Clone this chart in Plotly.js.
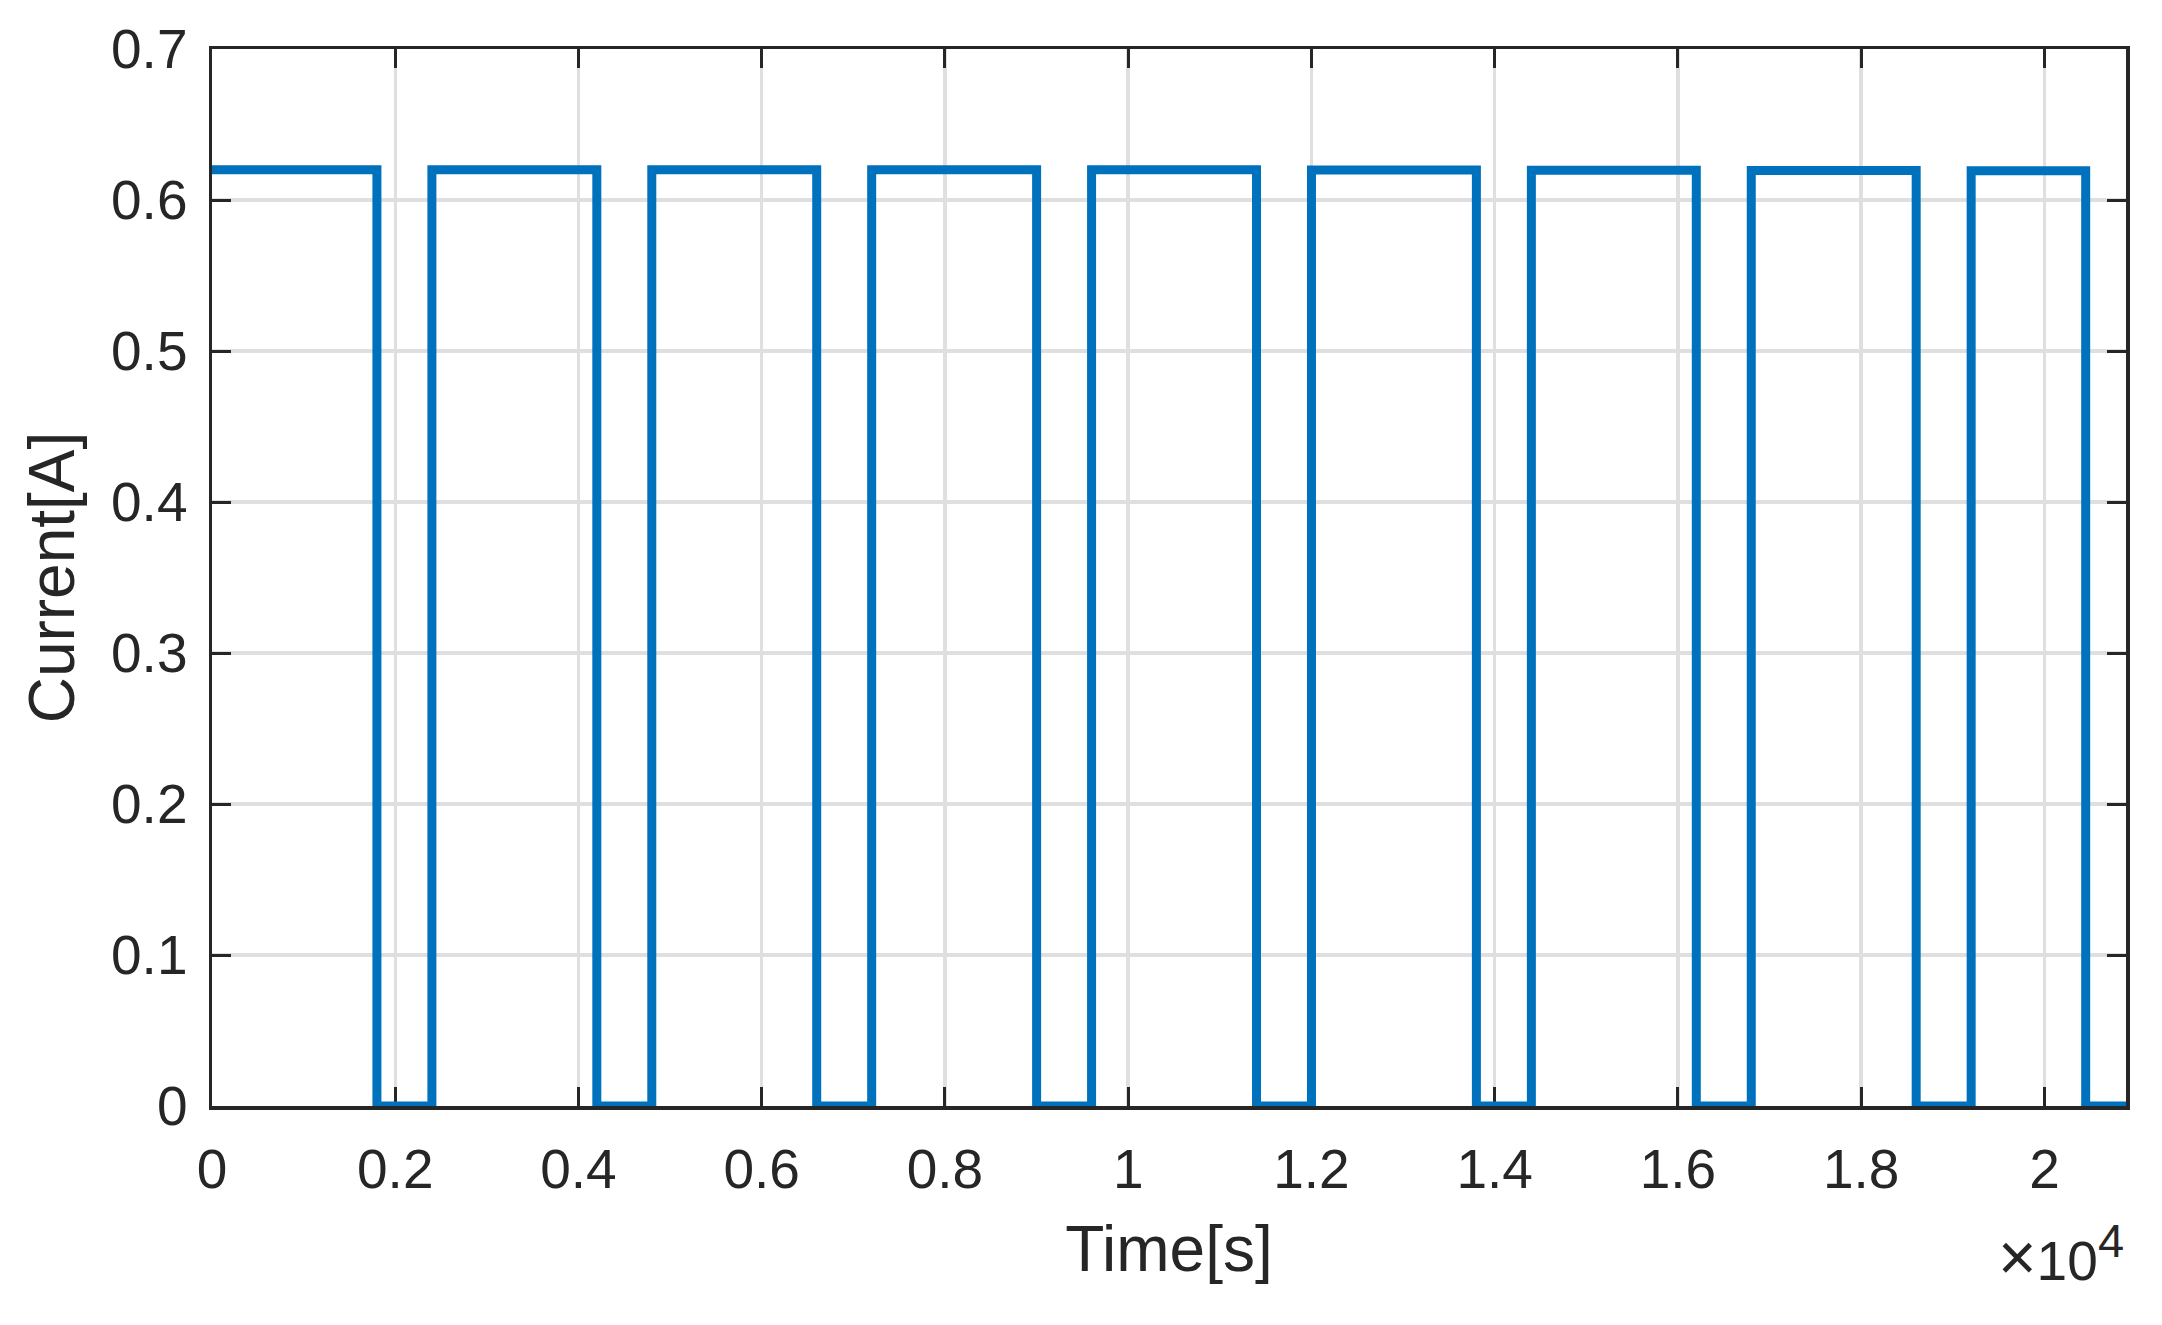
<!DOCTYPE html>
<html>
<head>
<meta charset="utf-8">
<script src="https://cdn.plot.ly/plotly-3.0.1.min.js"></script>
<style>html,body{margin:0;padding:0;background:#fff;}#chart{width:2162px;height:1325px;}</style>
</head>
<body>
<div id="chart"></div>
<script>
// Switching instants (s) and the current level that starts at each instant (A)
const timeSeconds = [0, 1800, 2400, 4200, 4800, 6600, 7200, 9000, 9600, 11400, 12000, 13800, 14400, 16200, 16800, 18600, 19200, 20450, 20890];
const currentAmps = [0.620, 0, 0.620, 0, 0.620, 0, 0.620, 0, 0.620, 0, 0.6198, 0, 0.6197, 0, 0.6196, 0, 0.6194, 0, 0];

const xTickVals = [0, 2000, 4000, 6000, 8000, 10000, 12000, 14000, 16000, 18000, 20000];
const xTickText = ['0', '0.2', '0.4', '0.6', '0.8', '1', '1.2', '1.4', '1.6', '1.8', '2'];
const yTickVals = [0, 0.1, 0.2, 0.3, 0.4, 0.5, 0.6, 0.7];
const yTickText = ['0', '0.1', '0.2', '0.3', '0.4', '0.5', '0.6', '0.7'];
const xExponentTimes = '×';
const xExponentBase = '10';
const xExponent = '4';

const textColor = '#262626';
const fontFamily = 'Liberation Sans, Arial, sans-serif';

const trace = {
  x: timeSeconds,
  y: currentAmps,
  type: 'scatter',
  mode: 'lines',
  line: {shape: 'hv', color: '#0072BD', width: 9},
  hoverinfo: 'x+y',
  cliponaxis: false
};

const axisCommon = {
  showline: true,
  linecolor: textColor,
  linewidth: 3.5,
  mirror: 'ticks',
  ticks: 'inside',
  ticklen: 19,
  tickwidth: 3,
  tickcolor: textColor,
  showgrid: true,
  gridcolor: '#dfdfdf',
  gridwidth: 3.5,
  zeroline: false,
  layer: 'below traces',
  tickfont: {family: fontFamily, size: 55, color: textColor},
  tickmode: 'array'
};

const layout = {
  width: 2162,
  height: 1325,
  margin: {l: 212, r: 36, t: 49, b: 219},
  paper_bgcolor: '#ffffff',
  plot_bgcolor: '#ffffff',
  showlegend: false,
  font: {family: fontFamily, color: textColor},
  xaxis: Object.assign({}, axisCommon, {
    range: [0, 20890],
    tickvals: xTickVals,
    ticktext: xTickText,
    ticklabelstandoff: 12,
    title: {text: 'Time[s]', font: {family: fontFamily, size: 64, color: textColor}, standoff: 28}
  }),
  yaxis: Object.assign({}, axisCommon, {
    range: [0, 0.7],
    tickvals: yTickVals,
    ticktext: yTickText,
    ticklabelstandoff: 10,
    title: {text: 'Current[A]', font: {family: fontFamily, size: 64, color: textColor}, standoff: 16}
  }),
  annotations: [{
    xref: 'paper', yref: 'paper',
    x: 0.9864, y: -0.1798,
    xanchor: 'right', yanchor: 'bottom',
    showarrow: false,
    text: '<span style="font-size:66px">' + xExponentTimes + '</span>' + xExponentBase,
    font: {family: fontFamily, size: 55, color: textColor}
  }, {
    xref: 'paper', yref: 'paper',
    x: 1.0, y: -0.1542,
    xanchor: 'right', yanchor: 'bottom',
    showarrow: false,
    text: xExponent,
    font: {family: fontFamily, size: 47, color: textColor}
  }]
};

Plotly.newPlot('chart', [trace], layout, {displayModeBar: false, staticPlot: true});
</script>
</body>
</html>
